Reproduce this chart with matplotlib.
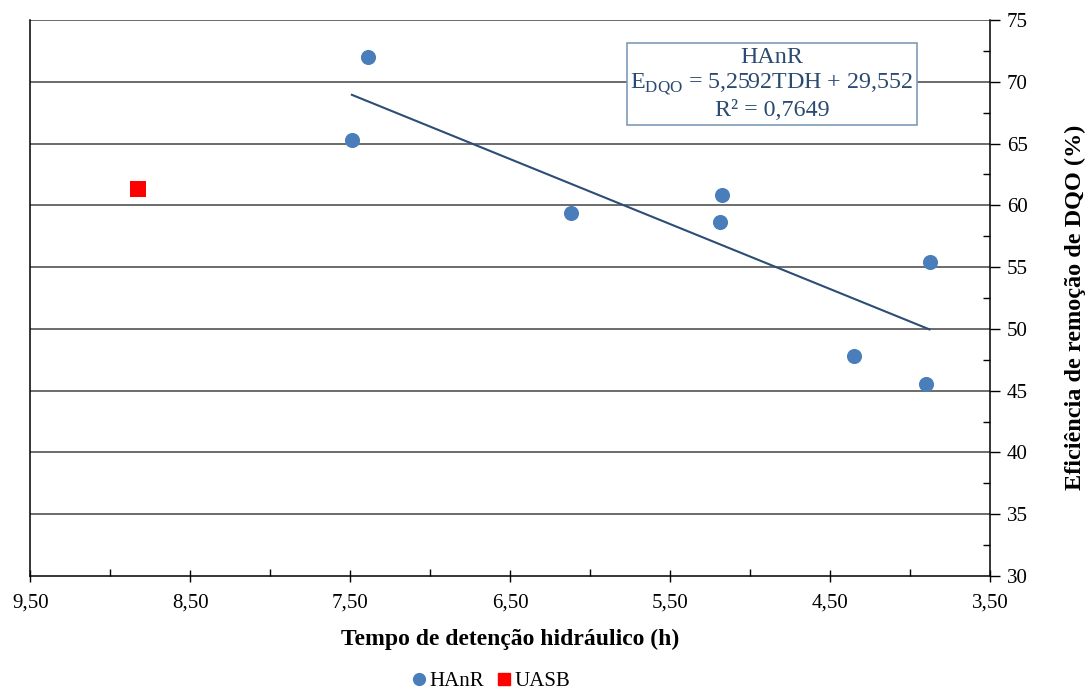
import matplotlib
matplotlib.use("Agg")
import matplotlib.pyplot as plt
from matplotlib.ticker import MultipleLocator, FuncFormatter
from matplotlib.lines import Line2D

# Hydraulic retention time (h) vs. COD removal efficiency (%)
hanr_tdh = [7.39, 7.49, 6.12, 5.18, 5.19, 3.88, 4.35, 3.90]
hanr_eff = [72.03, 65.29, 59.36, 60.81, 58.63, 55.44, 47.81, 45.56]
uasb_tdh = [8.83]
uasb_eff = [61.32]

# Linear fit reported for the HAnR reactor
slope = 5.2592
intercept = 29.552
r_squared = "0,7649"

plt.rcParams['font.family'] = ['Liberation Serif', 'DejaVu Serif']
plt.rcParams['mathtext.fontset'] = 'custom'
plt.rcParams['mathtext.rm'] = 'Liberation Serif'

fig = plt.figure(figsize=(10.89, 6.90), dpi=100)
ax = fig.add_axes([30.3 / 1089, 1 - 576 / 690, (990.3 - 30.3) / 1089, (576 - 20) / 690])

blue = '#4A7EBB'
red = '#FF0000'
trend_color = '#2C4D75'
text_color = '#2B4A6F'

ax.set_xlim(9.5, 3.5)
ax.set_ylim(30, 75)

# horizontal grid
for v in range(35, 80, 5):
    ax.axhline(v, color='#444444', lw=1.1, zorder=1)

ax.scatter(hanr_tdh, hanr_eff, s=118, color=blue, zorder=3, linewidths=0)
ax.scatter(uasb_tdh, uasb_eff, s=118, color=red, marker='s', zorder=3, linewidths=0)

x0, x1 = min(hanr_tdh), max(hanr_tdh)
ax.plot([x0, x1], [slope * x0 + intercept, slope * x1 + intercept],
        color=trend_color, lw=1.5, zorder=2)

# axes styling
ax.spines['top'].set_visible(False)
for side in ['left', 'right', 'bottom']:
    ax.spines[side].set_color('black')
    ax.spines[side].set_linewidth(1.1)

ax.xaxis.set_minor_locator(MultipleLocator(0.5))
ax.xaxis.set_major_formatter(FuncFormatter(lambda v, p: f"{v:.2f}".replace('.', ',')))
ax.set_xticks([9.5, 8.5, 7.5, 6.5, 5.5, 4.5, 3.5])
ax.tick_params(axis='x', which='major', direction='inout', length=9, width=1,
               labelsize=15, pad=8)
ax.tick_params(axis='x', which='minor', direction='in', length=5, width=1)

ax.yaxis.tick_right()
ax.yaxis.set_label_position('right')
ax.yaxis.set_major_locator(MultipleLocator(5))
ax.yaxis.set_minor_locator(MultipleLocator(2.5))
ax.tick_params(axis='y', which='major', direction='out', length=7, width=1,
               labelsize=15, pad=5, left=False, right=True)
ax.tick_params(axis='y', which='minor', direction='in', length=5, width=1,
               left=False, right=True)

ax.set_xlabel('Tempo de detenção hidráulico (h)', fontsize=17, fontweight='bold',
              labelpad=12)
ax.set_ylabel('Eficiência de remoção de DQO (%)', fontsize=17.5, fontweight='bold')
ax.yaxis.set_label_coords(1.0775, 0.484)

# fit equation box
eq_text = ("HAnR\n"
           "E$_{\\mathrm{DQO}}$ = " + f"{slope:.4f}".replace('.', ',') + "TDH + "
           + f"{intercept:.3f}".replace('.', ',') + "\n"
           "R² = " + r_squared)
fig.text(772 / 1089, 1 - 84 / 690, eq_text, ha='center', va='center',
         multialignment='center', fontsize=17.3, color=text_color, linespacing=1.2,
         bbox=dict(boxstyle='square,pad=0.15', fc='white', ec='#7F9CB7', lw=1.2),
         zorder=5)

handles = [
    Line2D([], [], marker='o', color=blue, linestyle='none', markersize=8.5, label='HAnR'),
    Line2D([], [], marker='s', color=red, linestyle='none', markersize=8.5, label='UASB'),
]
fig.legend(handles=handles, loc='center', bbox_to_anchor=(490 / 1089, 1 - 681 / 690),
           ncol=2, frameon=False, fontsize=15, handletextpad=0.05,
           columnspacing=0.5, handlelength=0.9, borderaxespad=0)

fig.savefig('out.png', dpi=100)
